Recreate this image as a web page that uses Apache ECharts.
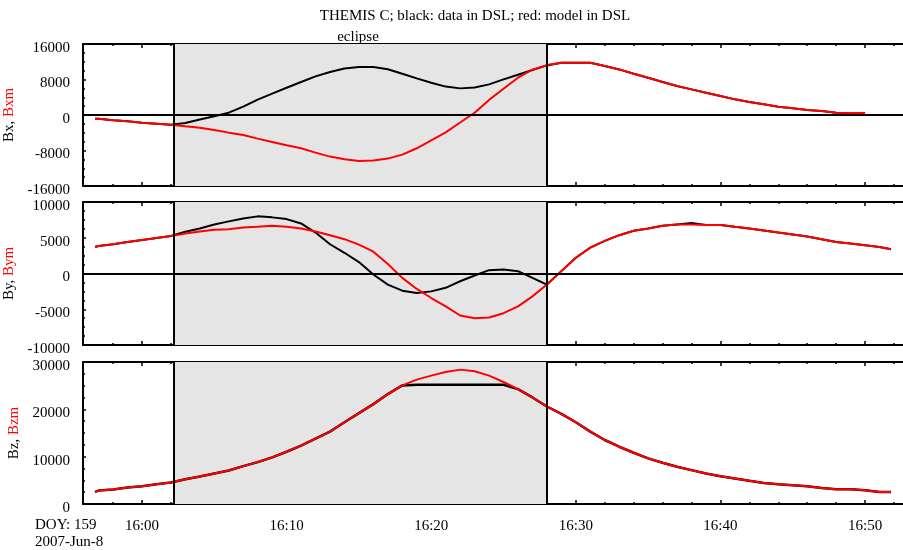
<!DOCTYPE html>
<html>
<head>
<meta charset="utf-8">
<title>THEMIS C magnetic field, data vs model</title>
<script src="https://cdn.jsdelivr.net/npm/echarts@6/dist/echarts.min.js"></script>
<style>
  html, body { margin: 0; padding: 0; background: #fff; }
  #chart { width: 903px; height: 550px; }
</style>
</head>
<body>
<div id="chart"></div>
<script>
// Sample times, minutes after 16:00 UT (2007-06-08, DOY 159)
const minutes = [-3.25, -3, -2, -1, 0, 1, 2, 3, 4, 5, 6, 7, 8, 9, 10, 11, 12, 13, 14, 15, 16, 17, 18, 19, 20,
  21, 22, 23, 24, 25, 26, 27, 28, 29, 30, 31, 32, 33, 34, 35, 36, 37, 38, 39, 40, 41, 42, 43, 44, 45, 46, 47,
  48, 49, 50, 51, 51.8];

// Bx (nT): measured, DSL
const bxData = [-825, -825, -1200, -1425, -1725, -1950, -2175, -1800, -1000, -300, 525, 1875, 3450, 4800, 6150,
  7425, 8700, 9700, 10500, 10800, 10800, 10300, 9300, 8250, 7275, 6400, 6000, 6200, 6900, 8025, 9075, 10125,
  11175, 11775, 11775, 11775, 11025, 10275, 9300, 8400, 7425, 6525, 5775, 5025, 4275, 3525, 2925, 2400, 1875,
  1500, 1125, 900, 525, 450, 450, null, null];
// Bxm (nT): model, DSL
const bxModel = [-825, -825, -1200, -1425, -1725, -1950, -2175, -2550, -2850, -3375, -3975, -4500, -5325, -6075,
  -6825, -7500, -8475, -9375, -9975, -10350, -10275, -9825, -8925, -7500, -5700, -3900, -1700, 500, 3400, 5900,
  8400, 10200, 11250, 11775, 11775, 11775, 11025, 10275, 9300, 8400, 7425, 6525, 5775, 5025, 4275, 3525, 2925,
  2400, 1875, 1500, 1125, 900, 525, 450, 450, null, null];

// By (nT): measured, DSL
const byData = [3710, 3850, 4090, 4420, 4700, 4980, 5260, 5830, 6300, 6860, 7290, 7700, 7990, 7850, 7610, 7000,
  5730, 4090, 2900, 1600, -140, -1550, -2400, -2730, -2500, -2000, -1080, -280, 470, 560, 330, -610, -1550, 330,
  2200, 3620, 4560, 5360, 5970, 6300, 6670, 6860, 7050, 6800, 6770, 6530, 6300, 6020, 5730, 5450, 5170, 4800,
  4420, 4180, 3950, 3710, 3380];
// Bym (nT): model, DSL
const byModel = [3710, 3850, 4090, 4420, 4700, 4980, 5260, 5590, 5875, 6110, 6200, 6440, 6530, 6670, 6530, 6300,
  5875, 5360, 4800, 4040, 3055, 1320, -610, -2160, -3430, -4600, -5875, -6250, -6160, -5550, -4600, -3200, -1550,
  330, 2200, 3620, 4560, 5360, 5970, 6300, 6670, 6860, 6860, 6800, 6770, 6530, 6300, 6020, 5730, 5450, 5170,
  4800, 4420, 4180, 3950, 3710, 3380];

// Bz (nT): measured, DSL (flat top where the instrument range tops out)
const bzData = [2550, 2830, 3040, 3470, 3750, 4180, 4530, 5240, 5800, 6440, 7080, 8000, 8850, 9840, 11040, 12320,
  13800, 15290, 17275, 19190, 21100, 23220, 25060, 25200, 25200, 25200, 25200, 25200, 25200, 25200, 24280, 22510,
  20600, 19050, 17275, 15290, 13520, 12100, 10830, 9630, 8710, 7860, 7150, 6440, 5880, 5380, 4890, 4460, 4180,
  3960, 3750, 3400, 3120, 3120, 2900, 2550, 2550];
// Bzm (nT): model, DSL
const bzModel = [2550, 2830, 3040, 3470, 3750, 4180, 4530, 5240, 5800, 6440, 7080, 8000, 8850, 9840, 11040, 12320,
  13800, 15290, 17275, 19190, 21100, 23220, 25060, 26270, 27120, 27900, 28390, 28040, 27120, 25770, 24280, 22510,
  20600, 19050, 17275, 15290, 13520, 12100, 10830, 9630, 8710, 7860, 7150, 6440, 5880, 5380, 4890, 4460, 4180,
  3960, 3750, 3400, 3120, 3120, 2900, 2550, 2550];

// Eclipse interval (minutes after 16:00)
const eclipseStart = 2.2;
const eclipseEnd = 28.0;

// Time axis ticks and labels
const majorTicks = [0, 10, 20, 30, 40, 50];
const minorTicks = [-2, 2, 4, 6, 8, 12, 14, 16, 18, 22, 24, 26, 28, 32, 34, 36, 38, 42, 44, 46, 48, 52];

// Panel y ranges: [min, max, interval]
const panelRanges = [[-16000, 16000, 8000], [-10000, 10000, 5000], [0, 30000, 10000]];
const panelNames = [['Bx, ', 'Bxm'], ['By, ', 'Bym'], ['Bz, ', 'Bzm']];
const panelSeries = [[bxData, bxModel], [byData, byModel], [bzData, bzModel]];

const FONT = '"Liberation Serif", "Times New Roman", serif';
const X_MIN = -4.08, X_MAX = 52.97;
const gridTops = [44, 202, 362];
const gridHeights = [142, 143, 142];

const chart = echarts.init(document.getElementById('chart'), null, { renderer: 'canvas' });

const grids = [], xAxes = [], yAxes = [], series = [];

function pairs(vals) { return minutes.map((m, k) => [m, vals[k]]); }
function fmtTime(v) { const mm = Math.round(v); return '16:' + (mm < 10 ? '0' : '') + mm; }

for (let i = 0; i < 3; i++) {
  grids.push({ left: 83, width: 825, top: gridTops[i], height: gridHeights[i],
    containLabel: false, outerBoundsMode: 'none' });

  const base = {
    type: 'value', gridIndex: i, min: X_MIN, max: X_MAX,
    splitLine: { show: false }, minorSplitLine: { show: false }
  };
  // bottom: major ticks (+ time labels on the last panel)
  xAxes.push(Object.assign({}, base, {
    position: 'bottom',
    axisLine: { show: true, onZero: false, lineStyle: { color: '#000', width: 2 } },
    axisTick: { show: true, inside: true, length: 4, customValues: majorTicks, lineStyle: { color: '#000', width: 1.5 } },
    axisLabel: {
      show: i === 2, customValues: majorTicks, formatter: fmtTime, margin: 15,
      fontFamily: FONT, fontSize: 15, color: '#000'
    }
  }));
  // bottom: minor ticks
  xAxes.push(Object.assign({}, base, {
    position: 'bottom',
    axisLine: { show: false, onZero: false },
    axisTick: { show: true, inside: true, length: 2, customValues: minorTicks, lineStyle: { color: '#000', width: 1.5 } },
    axisLabel: { show: false }
  }));
  // top: major ticks
  xAxes.push(Object.assign({}, base, {
    position: 'top',
    axisLine: { show: true, onZero: false, lineStyle: { color: '#000', width: 2 } },
    axisTick: { show: true, inside: true, length: 4, customValues: majorTicks, lineStyle: { color: '#000', width: 1.5 } },
    axisLabel: { show: false }
  }));
  // top: minor ticks
  xAxes.push(Object.assign({}, base, {
    position: 'top',
    axisLine: { show: false, onZero: false },
    axisTick: { show: true, inside: true, length: 2, customValues: minorTicks, lineStyle: { color: '#000', width: 1.5 } },
    axisLabel: { show: false }
  }));

  const r = panelRanges[i];
  yAxes.push({
    type: 'value', gridIndex: i, position: 'left',
    min: r[0], max: r[1], interval: r[2],
    axisLine: { show: true, onZero: false, lineStyle: { color: '#000', width: 2 } },
    axisTick: { show: true, inside: true, length: 3, lineStyle: { color: '#000', width: 1.5 } },
    minorTick: { show: true, splitNumber: 4, length: 2, lineStyle: { color: '#000', width: 1.5 } },
    splitLine: { show: false },
    // labels sit a little below their tick
    axisLabel: { fontFamily: FONT, fontSize: 15, color: '#000', margin: 13,
      verticalAlign: 'top', lineHeight: 8, formatter: v => String(v) },
    name: '{k|' + panelNames[i][0] + '}{r|' + panelNames[i][1] + '}',
    nameLocation: 'middle', nameRotate: 90, nameGap: 52,
    nameTextStyle: {
      fontFamily: FONT, fontSize: 15,
      rich: {
        k: { fontFamily: FONT, fontSize: 15, color: '#000' },
        r: { fontFamily: FONT, fontSize: 15, color: '#ff0000' }
      }
    }
  });

  const xIdx = i * 4;
  // eclipse shading and its boundaries
  series.push({
    type: 'line', xAxisIndex: xIdx, yAxisIndex: i, data: [], z: 1, silent: true,
    markArea: {
      silent: true,
      itemStyle: { color: '#e5e5e5' },
      data: [[{ xAxis: eclipseStart }, { xAxis: eclipseEnd }]]
    },
    markLine: {
      silent: true, symbol: ['none', 'none'], label: { show: false },
      lineStyle: { color: '#000', width: 2, type: 'solid' },
      data: [{ xAxis: eclipseStart }, { xAxis: eclipseEnd }].concat(i < 2 ? [{ yAxis: 0 }] : [])
    }
  });
  // measured field (black)
  series.push({
    type: 'line', name: 'data', xAxisIndex: xIdx, yAxisIndex: i,
    data: pairs(panelSeries[i][0]), showSymbol: false, symbol: 'none', z: 3,
    lineStyle: { color: '#000', width: i === 2 ? 2.5 : 2 }, connectNulls: false
  });
  // model field (red)
  series.push({
    type: 'line', name: 'model', xAxisIndex: xIdx, yAxisIndex: i,
    data: pairs(panelSeries[i][1]), showSymbol: false, symbol: 'none', z: 4,
    lineStyle: { color: '#ff0000', width: 2 }, connectNulls: false
  });
}

chart.setOption({
  animation: false,
  backgroundColor: '#fff',
  grid: grids,
  xAxis: xAxes,
  yAxis: yAxes,
  series: series,
  graphic: [
    { type: 'text', style: { x: 475, y: 16.5, text: 'THEMIS C; black: data in DSL; red: model in DSL',
      font: '15px ' + FONT, fill: '#000', align: 'center', verticalAlign: 'middle' } },
    { type: 'text', style: { x: 358, y: 37, text: 'eclipse', font: '15px ' + FONT, fill: '#000',
      align: 'center', verticalAlign: 'middle' } },
    { type: 'text', style: { x: 35, y: 525.5, text: 'DOY: 159', font: '15px ' + FONT, fill: '#000',
      align: 'left', verticalAlign: 'middle' } },
    { type: 'text', style: { x: 35, y: 542.5, text: '2007-Jun-8', font: '15px ' + FONT, fill: '#000',
      align: 'left', verticalAlign: 'middle' } }
  ]
});
</script>
</body>
</html>
